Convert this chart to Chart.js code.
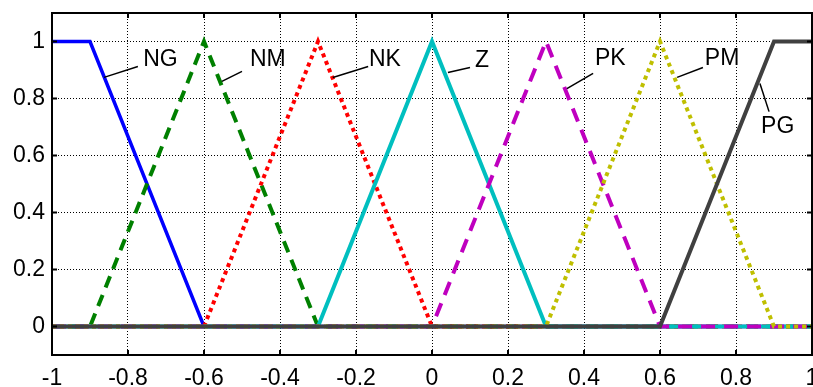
<!DOCTYPE html>
<html>
<head>
<meta charset="utf-8">
<script src="https://cdn.jsdelivr.net/npm/chart.js@4.4.1/dist/chart.umd.min.js"></script>
<style>
  html, body { margin: 0; padding: 0; background: #fff; overflow: hidden; }
  canvas { display: block; }
</style>
</head>
<body>
<canvas id="graph" width="813" height="387"></canvas>
<script>
// tick values
const xTicks = [-1, -0.8, -0.6, -0.4, -0.2, 0, 0.2, 0.4, 0.6, 0.8, 1];
const xTickLabels = ["-1", "-0.8", "-0.6", "-0.4", "-0.2", "0", "0.2", "0.4", "0.6", "0.8", "1"];
const yTicks = [0, 0.2, 0.4, 0.6, 0.8, 1];
const yTickLabels = ["0", "0.2", "0.4", "0.6", "0.8", "1"];

// membership functions (breakpoints)
const xNG = [-1, -0.9, -0.6, 1];
const yNG = [1, 1, 0, 0];
const xNM = [-1, -0.9, -0.6, -0.3, 1];
const yNM = [0, 0, 1, 0, 0];
const xNK = [-1, -0.6, -0.3, 0, 1];
const yNK = [0, 0, 1, 0, 0];
const xZ = [-1, -0.3, 0, 0.3, 1];
const yZ = [0, 0, 1, 0, 0];
const xPK = [-1, 0, 0.3, 0.6, 1];
const yPK = [0, 0, 1, 0, 0];
const xPM = [-1, 0.3, 0.6, 0.9, 1];
const yPM = [0, 0, 1, 0, 0];
const xPG = [-1, 0.6, 0.9, 1];
const yPG = [0, 0, 1, 1];

const pts = (xs, ys) => xs.map((x, i) => ({ x: x, y: ys[i] }));

// label text + leader line, in data units
const tags = [
  { t: "NG", tx: -0.760, ty: 0.937, l: [-0.863, 0.874, -0.774, 0.912] },
  { t: "NM", tx: -0.479, ty: 0.937, l: [-0.553, 0.860, -0.500, 0.895] },
  { t: "NK", tx: -0.166, ty: 0.937, l: [-0.261, 0.874, -0.168, 0.912] },
  { t: "Z",  tx: 0.113,  ty: 0.933, l: [0.042, 0.891, 0.100, 0.909] },
  { t: "PK", tx: 0.429,  ty: 0.940, l: [0.355, 0.835, 0.424, 0.888] },
  { t: "PM", tx: 0.718,  ty: 0.940, l: [0.645, 0.874, 0.713, 0.909] },
  { t: "PG", tx: 0.866,  ty: 0.702, l: [0.863, 0.853, 0.887, 0.754] }
];

const FONT = "'Liberation Sans', Arial, sans-serif";

const framePlugin = {
  id: "frame",
  afterDatasetsDraw(chart) {
    const { ctx, chartArea: a, scales } = chart;
    const sx = scales.x, sy = scales.y;
    ctx.save();
    // inward ticks
    ctx.strokeStyle = "#000";
    ctx.lineWidth = 2;
    ctx.beginPath();
    xTicks.forEach(v => {
      const px = sx.getPixelForValue(v);
      ctx.moveTo(px, a.bottom); ctx.lineTo(px, a.bottom - 5);
      ctx.moveTo(px, a.top); ctx.lineTo(px, a.top + 5);
    });
    yTicks.forEach(v => {
      const py = sy.getPixelForValue(v);
      ctx.moveTo(a.left, py); ctx.lineTo(a.left + 5, py);
      ctx.moveTo(a.right, py); ctx.lineTo(a.right - 5, py);
    });
    ctx.stroke();
    ctx.strokeRect(a.left, a.top, a.right - a.left, a.bottom - a.top);

    // labels
    ctx.lineWidth = 1.5;
    ctx.fillStyle = "#000";
    ctx.font = "23px " + FONT;
    ctx.textAlign = "left";
    ctx.textBaseline = "middle";
    tags.forEach(g => {
      ctx.beginPath();
      ctx.moveTo(sx.getPixelForValue(g.l[0]), sy.getPixelForValue(g.l[1]));
      ctx.lineTo(sx.getPixelForValue(g.l[2]), sy.getPixelForValue(g.l[3]));
      ctx.stroke();
      ctx.fillText(g.t, sx.getPixelForValue(g.tx), sy.getPixelForValue(g.ty));
    });
    ctx.restore();
  }
};

function line(xs, ys, color, dash, order) {
  return {
    data: pts(xs, ys),
    borderColor: color,
    borderWidth: 4,
    borderDash: dash,
    borderCapStyle: "butt",
    borderJoinStyle: "miter",
    pointRadius: 0,
    fill: false,
    showLine: true,
    tension: 0,
    order: order
  };
}

new Chart(document.getElementById("graph"), {
  type: "scatter",
  data: {
    datasets: [
      Object.assign(line(xNG, yNG, "#0000ff", [], 7), { borderWidth: 3.5 }),
      line(xNM, yNM, "#008000", [12, 8], 6),
      line(xNK, yNK, "#ff0000", [4, 4], 5),
      line(xZ, yZ, "#00bfbf", [], 4),
      line(xPK, yPK, "#bf00bf", [14, 9], 3),
      line(xPM, yPM, "#bfbf00", [4, 4], 2),
      line(xPG, yPG, "#404040", [], 1)
    ]
  },
  options: {
    responsive: false,
    animation: false,
    layout: { padding: { top: 13, right: 1, left: 0, bottom: 0 } },
    plugins: { legend: { display: false }, tooltip: { enabled: false } },
    scales: {
      x: {
        type: "linear",
        min: -1, max: 1,
        afterBuildTicks: s => { s.ticks = xTicks.map(v => ({ value: v })); },
        afterFit: s => { s.height = 32; s.paddingLeft = 0; s.paddingRight = 0; },
        ticks: {
          autoSkip: false,
          maxRotation: 0,
          padding: 10,
          color: "#000",
          font: { size: 23, family: FONT },
          callback: (v, i) => xTickLabels[i]
        },
        grid: { color: "#000", lineWidth: 1, drawTicks: false },
        border: { display: false, dash: [1, 2] }
      },
      y: {
        type: "linear",
        min: -0.1, max: 1.1,
        afterBuildTicks: s => { s.ticks = yTicks.map(v => ({ value: v })); },
        afterFit: s => { s.width = 52; s.paddingTop = 0; s.paddingBottom = 0; },
        ticks: {
          autoSkip: false,
          padding: 7,
          color: "#000",
          font: { size: 23, family: FONT },
          callback: (v, i) => yTickLabels[i]
        },
        grid: { color: "#000", lineWidth: 1, drawTicks: false },
        border: { display: false, dash: [1, 2] }
      }
    }
  },
  plugins: [framePlugin]
});
</script>
</body>
</html>
